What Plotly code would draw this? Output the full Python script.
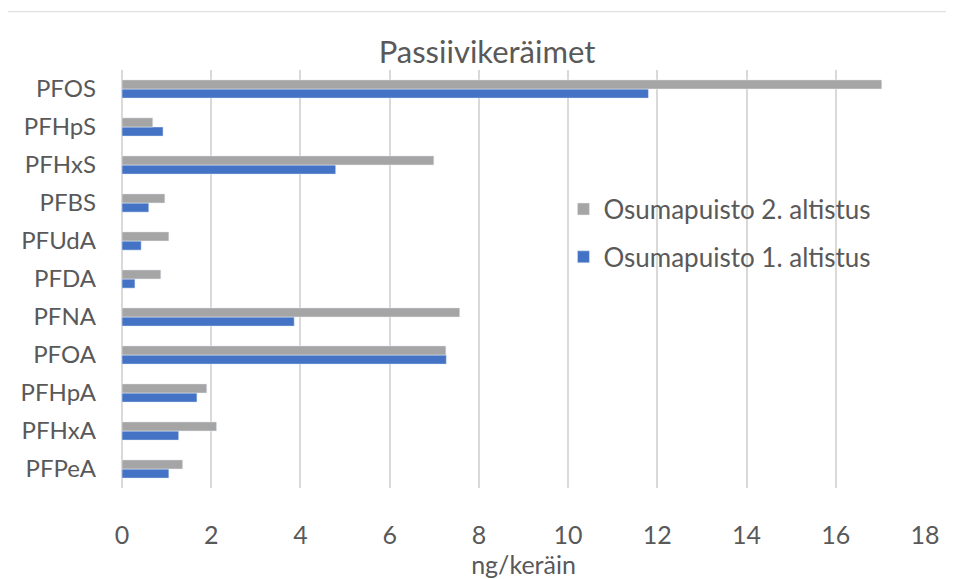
import plotly.graph_objects as go

categories = ["PFPeA", "PFHxA", "PFHpA", "PFOA", "PFNA", "PFDA", "PFUdA", "PFBS", "PFHxS", "PFHpS", "PFOS"]
altistus1 = [1.05, 1.27, 1.68, 7.27, 3.86, 0.29, 0.43, 0.60, 4.79, 0.92, 11.80]
altistus2 = [1.36, 2.12, 1.90, 7.26, 7.57, 0.87, 1.05, 0.96, 6.99, 0.69, 17.03]
series_names = ["Osumapuisto 1. altistus", "Osumapuisto 2. altistus"]
x_ticks = [0, 2, 4, 6, 8, 10, 12, 14, 16, 18]

FONT = "Lato"
TXT = "#595959"

# page renders with an 8px body margin; figure sized to fit the window
OFF = 8
W, H = 954 - OFF, 579 - OFF
L, R, T, B = 121 - OFF, 954 - 925, 70 - OFF, 579 - 493
PW, PH = W - L - R, H - T - B

def px_x(x):
    return (x - OFF - L) / PW

def px_y(y):
    return (H - B - (y - OFF)) / PH

fig = go.Figure()
fig.add_trace(go.Bar(y=categories, x=altistus1, orientation="h", name=series_names[0],
                     marker=dict(color="#4472C4"), legendgroup="b", legendrank=2))
fig.add_trace(go.Bar(y=categories, x=altistus2, orientation="h", name=series_names[1],
                     marker=dict(color="#A5A5A5"), legendgroup="a", legendrank=1))

fig.update_layout(
    width=W, height=H,
    margin=dict(l=L, r=R, t=T, b=B),
    paper_bgcolor="white", plot_bgcolor="white",
    barmode="group", bargap=0.52, bargroupgap=0,
    font=dict(family=FONT, color=TXT, size=24),
    title=dict(text="Passiivikeräimet", x=(487 - OFF) / W, xanchor="center", y=1 - (52 - OFF) / H,
               yanchor="middle", font=dict(family=FONT, size=31, color=TXT)),
    legend=dict(x=px_x(563), y=px_y(187), xanchor="left", yanchor="top", traceorder="grouped",
                tracegroupgap=11, font=dict(family=FONT, size=26, color=TXT), bgcolor="rgba(0,0,0,0)"),
    xaxis=dict(range=[0, 18], tickvals=x_ticks, showgrid=True, gridcolor="#d9d9d9", gridwidth=2,
               zeroline=True, zerolinecolor="#d9d9d9", zerolinewidth=2, showline=False,
               ticks="", ticklabelstandoff=30, tickfont=dict(size=25, color=TXT),
               title=dict(text="ng/keräin", font=dict(size=25, color=TXT), standoff=0)),
    yaxis=dict(showgrid=False, zeroline=False, showline=False, ticks="", ticklabelstandoff=25,
               tickfont=dict(size=24, color=TXT)),
    shapes=[dict(type="rect", xref="paper", yref="paper",
                 x0=px_x(4), x1=px_x(952),
                 y0=px_y(590), y1=px_y(11),
                 line=dict(color="#d9d9d9", width=1), fillcolor="rgba(0,0,0,0)", layer="below")],
)

fig.write_html("out.html")
